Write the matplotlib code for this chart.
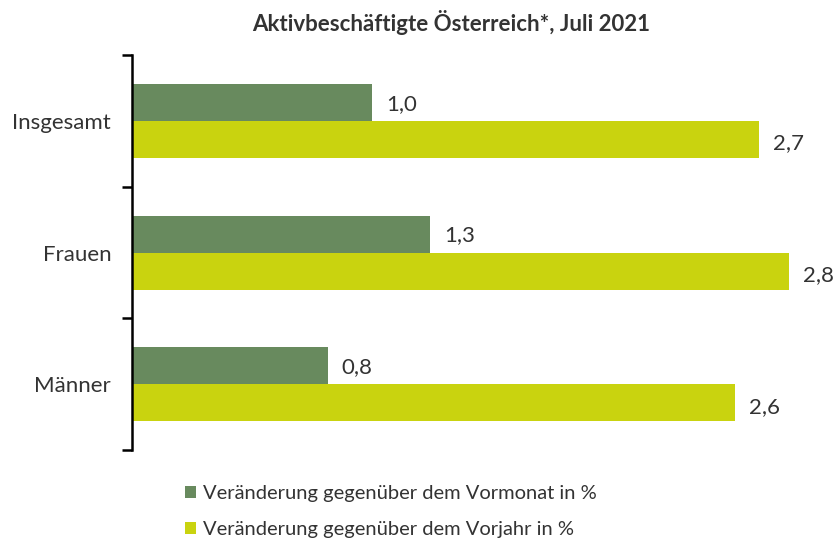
import matplotlib.pyplot as plt
import numpy as np

plt.rcParams['font.family'] = ['Lato', 'DejaVu Sans']

categories = ['Insgesamt', 'Frauen', 'Männer']
vormonat = [1.03, 1.28, 0.84]
vorjahr = [2.69, 2.82, 2.59]
series_labels = ['Veränderung gegenüber dem Vormonat in %',
                 'Veränderung gegenüber dem Vorjahr in %']
title = 'Aktivbeschäftigte Österreich*, Juli 2021'

DARK = '#688a5e'
LIME = '#c9d30f'
TEXT = '#333333'


def fmt(v):
    return f'{v:.1f}'.replace('.', ',')


fig = plt.figure(figsize=(8.34, 5.41), dpi=100)
ax = fig.add_axes([0.1583, 0.168, 0.838, 0.730])

y = np.arange(len(categories))
h = 0.28
b1 = ax.barh(y - h / 2, vormonat, height=h, color=DARK, label=series_labels[0])
b2 = ax.barh(y + h / 2, vorjahr, height=h, color=LIME, label=series_labels[1])
for yi, v in zip(y, vormonat):
    ax.text(v + 0.06, yi - h / 2 + 0.01, fmt(v), va='center', ha='left', fontsize=16, color=TEXT)
for yi, v in zip(y, vorjahr):
    ax.text(v + 0.06, yi + h / 2 + 0.03, fmt(v), va='center', ha='left', fontsize=16, color=TEXT)

ax.set_xlim(0, 3.0)
ax.set_ylim(2.5, -0.5)
ax.set_yticks(y, categories, fontsize=16, color=TEXT)
ax.tick_params(axis='y', which='major', length=0, pad=15)
ax.set_yticks([-0.5, 0.5, 1.5, 2.5], minor=True)
ax.tick_params(axis='y', which='minor', length=7, width=1.8, color='black')
ax.set_xticks([])
for side in ['top', 'right', 'bottom']:
    ax.spines[side].set_visible(False)
ax.spines['left'].set_linewidth(1.8)

fig.text(0.541, 0.958, title, ha='center', va='center', fontsize=16, fontweight='bold', color=TEXT)
fig.legend(handles=[b1, b2], loc='upper left', bbox_to_anchor=(0.212, 0.118), frameon=False,
           fontsize=14.5, handlelength=0.55, handleheight=0.55, handletextpad=0.35,
           labelspacing=0.95, labelcolor=TEXT, borderaxespad=0)

fig.savefig('out.png', dpi=100, facecolor='white')
